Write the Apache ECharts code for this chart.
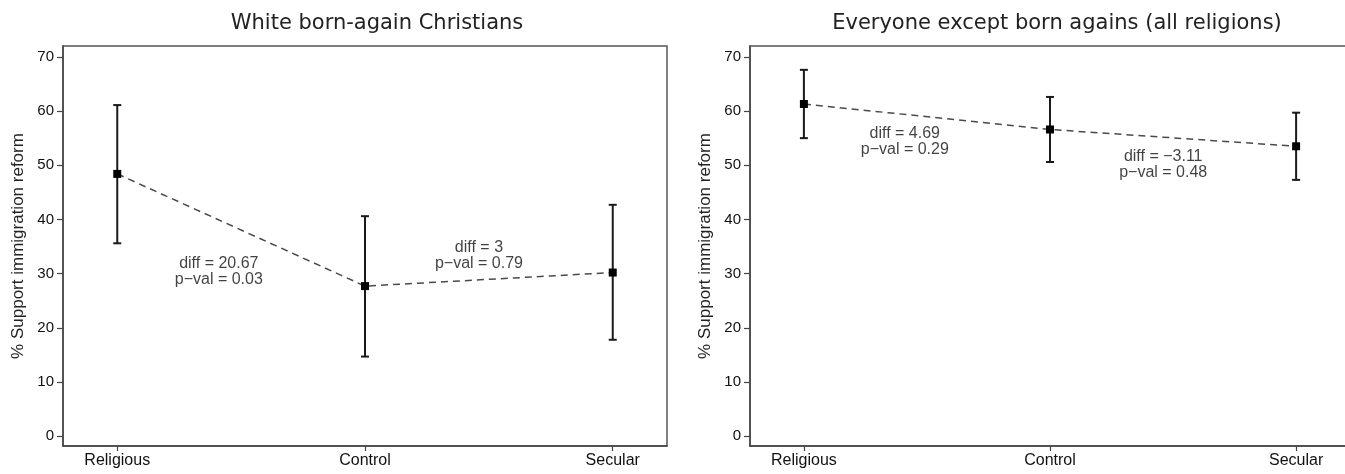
<!DOCTYPE html>
<html>
<head>
<meta charset="utf-8">
<script src="https://cdn.jsdelivr.net/npm/echarts@6/dist/echarts.min.js"></script>
<style>
  html, body { margin: 0; padding: 0; background: #fff; }
  #chart { width: 1345px; height: 474px; }
</style>
</head>
<body>
<div id="chart"></div>
<script>
// categories and tick labels
var categories = ['Religious', 'Control', 'Secular'];
var xTicks = [1, 2, 3];
var yTicks = [0, 10, 20, 30, 40, 50, 60, 70];

// white born-again christians
var leftMeans = [48.4, 27.7, 30.2];
var leftLow = [35.6, 14.7, 17.8];
var leftHigh = [61.1, 40.6, 42.7];
var leftNotes = ['diff = 20.67\np\u2212val = 0.03', 'diff = 3\np\u2212val = 0.79'];
var leftNoteX = [1.41, 2.46];
var leftNoteY = [30.4, 33.4];

// everyone except born agains
var rightMeans = [61.3, 56.6, 53.5];
var rightLow = [55.0, 50.6, 47.3];
var rightHigh = [67.6, 62.6, 59.7];
var rightNotes = ['diff = 4.69\np\u2212val = 0.29', 'diff = \u22123.11\np\u2212val = 0.48'];
var rightNoteX = [1.41, 2.46];
var rightNoteY = [54.4, 50.1];

var textFont = 'Liberation Sans';
var chartDom = document.getElementById('chart');
var myChart = echarts.init(chartDom, null, { renderer: 'canvas' });

function xAxisFor(idx) {
    return {
        type: 'value',
        gridIndex: idx,
        min: 0.781,
        max: 3.219,
        splitLine: { show: false },
        axisLine: { onZero: false, lineStyle: { color: '#444', width: 1.5 } },
        axisTick: { customValues: xTicks, length: 5, lineStyle: { color: '#444', width: 1.2 } },
        axisLabel: {
            customValues: xTicks,
            formatter: function (v) { return categories[Math.round(v) - 1]; },
            margin: 7,
            fontFamily: textFont,
            fontSize: 16,
            color: '#111'
        }
    };
}

function yAxisFor(idx) {
    return {
        type: 'value',
        gridIndex: idx,
        min: -1.8,
        max: 72,
        name: '% Support immigration reform',
        nameLocation: 'middle',
        nameGap: 36,
        nameTextStyle: { fontFamily: textFont, fontSize: 17, color: '#222' },
        splitLine: { show: false },
        axisLine: { show: true, onZero: false, lineStyle: { color: '#444', width: 1.5 } },
        axisTick: { show: true, customValues: yTicks, length: 6, lineStyle: { color: '#444', width: 1.2 } },
        axisLabel: {
            customValues: yTicks,
            margin: 9,
            fontFamily: textFont,
            fontSize: 15,
            color: '#111'
        }
    };
}

function pairs(means) {
    return means.map(function (m, i) { return [xTicks[i], m]; });
}

function bars(low, high) {
    return low.map(function (l, i) { return [xTicks[i], l, high[i]]; });
}

function notes(xs, ys, texts) {
    return texts.map(function (t, i) { return [xs[i], ys[i], t]; });
}

function renderErrorBar(params, api) {
    var x = api.value(0);
    var lo = api.coord([x, api.value(1)]);
    var hi = api.coord([x, api.value(2)]);
    var w = 4;
    var style = { stroke: '#1a1a1a', lineWidth: 2 };
    return {
        type: 'group',
        children: [
            { type: 'line', shape: { x1: lo[0], y1: lo[1], x2: hi[0], y2: hi[1] }, style: style },
            { type: 'line', shape: { x1: hi[0] - w, y1: hi[1], x2: hi[0] + w, y2: hi[1] }, style: style },
            { type: 'line', shape: { x1: lo[0] - w, y1: lo[1], x2: lo[0] + w, y2: lo[1] }, style: style }
        ]
    };
}

function panelSeries(idx, means, low, high, noteData) {
    return [
        {
            type: 'custom',
            xAxisIndex: idx,
            yAxisIndex: idx,
            renderItem: renderErrorBar,
            data: bars(low, high),
            z: 2
        },
        {
            type: 'line',
            xAxisIndex: idx,
            yAxisIndex: idx,
            data: pairs(means),
            symbol: 'rect',
            symbolSize: 8,
            itemStyle: { color: '#000' },
            lineStyle: { color: '#4a4a4a', width: 1.5, type: [7, 5] },
            z: 3
        },
        {
            type: 'scatter',
            xAxisIndex: idx,
            yAxisIndex: idx,
            symbolSize: 0,
            data: noteData,
            silent: true,
            label: {
                show: true,
                position: 'inside',
                formatter: function (p) { return p.data[2]; },
                fontFamily: textFont,
                fontSize: 16,
                lineHeight: 16,
                align: 'center',
                color: '#111'
            },
            z: 4
        }
    ];
}

var option = {
    backgroundColor: '#fff',
    animation: false,
    title: [
        {
            text: 'White born-again Christians',
            left: 372,
            top: 8,
            textAlign: 'center',
            textStyle: { fontFamily: 'DejaVu Sans', fontSize: 21, fontWeight: 'normal', color: '#222' }
        },
        {
            text: 'Everyone except born agains (all religions)',
            left: 1052,
            top: 8,
            textAlign: 'center',
            textStyle: { fontFamily: 'DejaVu Sans', fontSize: 21, fontWeight: 'normal', color: '#222' }
        }
    ],
    grid: [
        { left: 63, top: 46, width: 604, height: 400, show: true, borderColor: '#555', borderWidth: 1.5, outerBoundsMode: 'none' },
        { left: 750, top: 46, width: 600, height: 400, show: true, borderColor: '#555', borderWidth: 1.5, outerBoundsMode: 'none' }
    ],
    xAxis: [xAxisFor(0), xAxisFor(1)],
    yAxis: [yAxisFor(0), yAxisFor(1)],
    series: []
        .concat(panelSeries(0, leftMeans, leftLow, leftHigh, notes(leftNoteX, leftNoteY, leftNotes)))
        .concat(panelSeries(1, rightMeans, rightLow, rightHigh, notes(rightNoteX, rightNoteY, rightNotes)))
};

option && myChart.setOption(option);
</script>
</body>
</html>
